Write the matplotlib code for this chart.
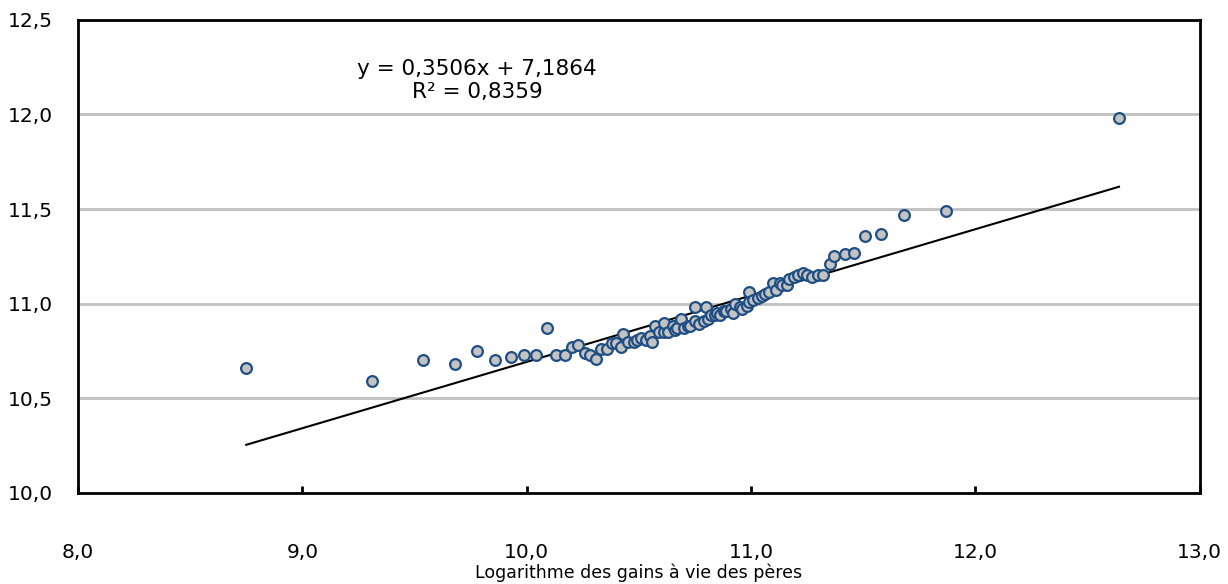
import matplotlib.pyplot as plt
from matplotlib.ticker import FuncFormatter

# log des gains des pères (x) et des fils (y)
x_peres = [8.75, 9.31, 9.54, 9.68, 9.78, 9.86, 9.93, 9.99, 10.04, 10.09,
           10.13, 10.17, 10.20, 10.23, 10.26, 10.28, 10.31, 10.33, 10.36, 10.38,
           10.40, 10.42, 10.43, 10.45, 10.48, 10.49, 10.51, 10.53, 10.55, 10.56,
           10.57, 10.59, 10.61, 10.61, 10.63, 10.65, 10.66, 10.67, 10.69, 10.70,
           10.72, 10.73, 10.75, 10.75, 10.77, 10.79, 10.80, 10.81, 10.82, 10.84,
           10.85, 10.86, 10.88, 10.89, 10.91, 10.92, 10.93, 10.95, 10.96, 10.98,
           10.99, 10.99, 11.01, 11.03, 11.05, 11.06, 11.08, 11.10, 11.11, 11.13,
           11.14, 11.16, 11.17, 11.19, 11.21, 11.23, 11.25, 11.27, 11.30, 11.32,
           11.35, 11.37, 11.42, 11.46, 11.51, 11.58, 11.68, 11.87, 12.64]
y_fils = [10.66, 10.59, 10.70, 10.68, 10.75, 10.70, 10.72, 10.73, 10.73, 10.87,
          10.73, 10.73, 10.77, 10.78, 10.74, 10.73, 10.71, 10.76, 10.76, 10.79,
          10.79, 10.77, 10.84, 10.80, 10.80, 10.81, 10.82, 10.81, 10.83, 10.80,
          10.88, 10.85, 10.85, 10.90, 10.85, 10.88, 10.86, 10.87, 10.92, 10.87,
          10.88, 10.88, 10.91, 10.98, 10.89, 10.91, 10.98, 10.92, 10.94, 10.94,
          10.95, 10.94, 10.96, 10.96, 10.97, 10.95, 11.00, 10.98, 10.97, 10.99,
          11.06, 11.01, 11.02, 11.03, 11.04, 11.05, 11.06, 11.11, 11.07, 11.11,
          11.10, 11.10, 11.13, 11.14, 11.15, 11.16, 11.15, 11.14, 11.15, 11.15,
          11.21, 11.25, 11.26, 11.27, 11.36, 11.37, 11.47, 11.49, 11.98]

pente = 0.3506
ordonnee = 7.1864
r2 = 0.8359

fmt = FuncFormatter(lambda v, p: f"{v:.1f}".replace('.', ','))

fig = plt.figure(figsize=(12.28, 5.84), dpi=100)
ax = fig.add_axes([0.0635, 0.156, 0.9135, 0.810])

x_line = [min(x_peres), max(x_peres)]
y_line = [pente * v + ordonnee for v in x_line]
ax.plot(x_line, y_line, color='black', lw=1.5, zorder=2)

ax.scatter(x_peres, y_fils, s=60, facecolor='#c3c3c3', edgecolor='#1f4e85',
           linewidth=1.6, zorder=3)

ax.set_xlim(8, 13)
ax.set_ylim(10, 12.5)
ax.set_xticks([8, 9, 10, 11, 12, 13])
ax.set_yticks([10, 10.5, 11, 11.5, 12, 12.5])
ax.xaxis.set_major_formatter(fmt)
ax.yaxis.set_major_formatter(fmt)
ax.grid(axis='y', color='#c0c0c0', lw=2)
ax.set_axisbelow(True)
for s in ax.spines.values():
    s.set_linewidth(2)
ax.tick_params(axis='x', direction='in', length=5, width=2, pad=36, labelsize=14.5)
ax.tick_params(axis='y', length=0, pad=18, labelsize=14.5)

ax.text(9.78, 12.18, f"y = {pente:.4f}x + {ordonnee:.4f}\nR² = {r2:.4f}".replace('.', ','),
        ha='center', va='center', fontsize=15.5, linespacing=1.15)

fig.text(0.52, 0.02, 'Logarithme des gains à vie des pères', fontsize=12.5,
         ha='center', va='center')

fig.savefig('out.png', dpi=100)
